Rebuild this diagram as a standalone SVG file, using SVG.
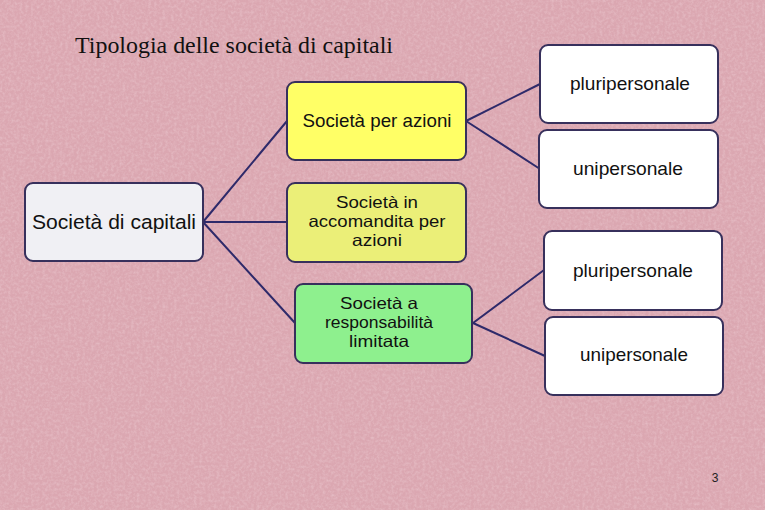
<svg xmlns="http://www.w3.org/2000/svg" width="765" height="510" viewBox="0 0 765 510">
<defs>
<filter id="tex" x="0" y="0" width="100%" height="100%">
<feTurbulence type="fractalNoise" baseFrequency="0.35" numOctaves="3" seed="4" result="n"/>
<feColorMatrix in="n" type="matrix" values="0 0 0 0 0.96  0 0 0 0 0.80  0 0 0 0 0.84  0 0 0 1.2 -0.45"/>
</filter>
<style>
.box{stroke:#37305c;stroke-width:2}
.t{font-family:"Liberation Sans",Arial,sans-serif;fill:#111;text-anchor:middle;font-size:18.5px}
.m{font-family:"Liberation Sans",Arial,sans-serif;fill:#111;text-anchor:middle;font-size:16.5px}
.c{stroke:#2e2a6a;stroke-width:2;fill:none}
</style>
</defs>
<rect width="765" height="510" fill="#dba7b1"/>
<rect width="765" height="510" filter="url(#tex)" opacity="0.45"/>
<text x="75" y="53" font-family="'Liberation Serif','Times New Roman',serif" font-size="22.5" fill="#111" textLength="318" lengthAdjust="spacingAndGlyphs">Tipologia delle società di capitali</text>
<g id="connectors">
<path class="c" d="M203,222 L287,121 M203,222 L287,222 M203,222 L295,323"/>
<path class="c" d="M466,121 L540,84 M466,121 L540,169"/>
<path class="c" d="M473,323 L544,270 M473,323 L545,356"/>
</g>
<g id="root">
<rect class="box" x="25" y="183" width="178" height="78" rx="8" fill="#f0f0f4"/>
<text class="t" x="114" y="229" style="font-size:20.5px" textLength="164" lengthAdjust="spacingAndGlyphs">Società di capitali</text>
</g>
<g id="spa">
<rect class="box" x="287" y="82" width="179" height="78" rx="8" fill="#ffff66"/>
<text class="t" x="377" y="127" textLength="149" lengthAdjust="spacingAndGlyphs">Società per azioni</text>
</g>
<g id="sapa">
<rect class="box" x="287" y="183" width="179" height="79" rx="8" fill="#ebef78"/>
<text class="m" x="377" y="208" textLength="82" lengthAdjust="spacingAndGlyphs">Società in</text>
<text class="m" x="377" y="227" textLength="137" lengthAdjust="spacingAndGlyphs">accomandita per</text>
<text class="m" x="377" y="246" textLength="50" lengthAdjust="spacingAndGlyphs">azioni</text>
</g>
<g id="srl">
<rect class="box" x="295" y="284" width="177" height="79" rx="8" fill="#8ef08e"/>
<text class="m" x="379" y="309" textLength="78" lengthAdjust="spacingAndGlyphs">Società a</text>
<text class="m" x="379" y="328" textLength="108" lengthAdjust="spacingAndGlyphs">responsabilità</text>
<text class="m" x="379" y="347" textLength="60" lengthAdjust="spacingAndGlyphs">limitata</text>
</g>
<g id="spa-pluri">
<rect class="box" x="540" y="45" width="178" height="78" rx="8" fill="#ffffff"/>
<text class="t" x="630" y="90" textLength="120" lengthAdjust="spacingAndGlyphs">pluripersonale</text>
</g>
<g id="spa-uni">
<rect class="box" x="539" y="130" width="179" height="78" rx="8" fill="#ffffff"/>
<text class="t" x="628" y="175" textLength="110" lengthAdjust="spacingAndGlyphs">unipersonale</text>
</g>
<g id="srl-pluri">
<rect class="box" x="544" y="231" width="178" height="79" rx="8" fill="#ffffff"/>
<text class="t" x="633" y="277" textLength="120" lengthAdjust="spacingAndGlyphs">pluripersonale</text>
</g>
<g id="srl-uni">
<rect class="box" x="545" y="317" width="178" height="78" rx="8" fill="#ffffff"/>
<text class="t" x="634" y="361" textLength="108" lengthAdjust="spacingAndGlyphs">unipersonale</text>
</g>
<text x="715" y="482" font-family="'Liberation Sans',Arial,sans-serif" font-size="12" fill="#222" text-anchor="middle">3</text>
</svg>
